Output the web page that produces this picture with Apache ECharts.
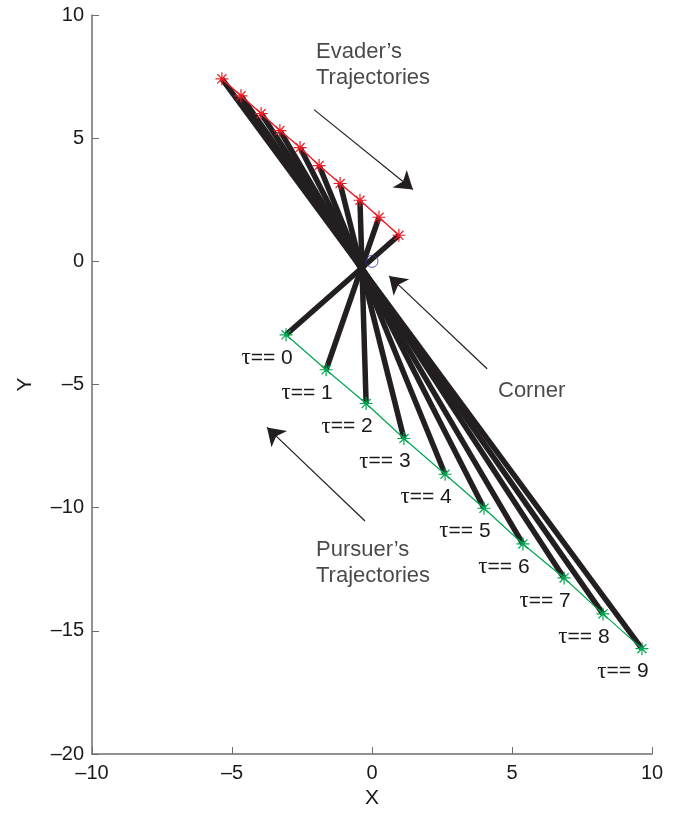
<!DOCTYPE html>
<html><head><meta charset="utf-8">
<script src="https://cdn.jsdelivr.net/npm/echarts@6/dist/echarts.min.js"></script>
<style>html,body{margin:0;padding:0;background:#fff}#c{width:677px;height:814px}</style>
</head><body><div id="c"></div>
<script>
// Evader positions (red)
const evaderX = [-5.36, -4.68, -3.96, -3.29, -2.57, -1.89, -1.14, -0.43, 0.25, 0.96];
const evaderY = [7.41, 6.72, 6.00, 5.31, 4.62, 3.89, 3.16, 2.48, 1.79, 1.06];
// Pursuer positions (green), tau = 0..9
const pursuerX = [-3.07, -1.64, -0.21, 1.14, 2.61, 4.00, 5.39, 6.86, 8.25, 9.64];
const pursuerY = [-2.98, -4.40, -5.77, -7.19, -8.64, -10.02, -11.47, -12.85, -14.31, -15.72];
const tauLabels = ['0','1','2','3','4','5','6','7','8','9'];
const corner = [0, 0];
const xTicks = [-10, -5, 0, 5, 10];
const yTicks = [10, 5, 0, -5, -10, -15, -20];
// annotation arrows [tail, tip]
const arrows = [
  [[-2.07, 6.16], [1.46, 2.92]],
  [[4.11, -4.36], [0.61, -0.59]],
  [[-0.25, -10.54], [-3.75, -6.74]]
];
const notes = [
  {text: "Evader’s\nTrajectories", pos: [-2.0, 7.98]},
  {text: "Corner", pos: [4.5, -5.27]},
  {text: "Pursuer’s\nTrajectories", pos: [-2.0, -12.24]}
];

const FONT = 'Liberation Sans, Arial, Helvetica, sans-serif';
const star = 'path://M0,-10L0,10M-10,0L10,0M-7,-7L7,7M-7,7L7,-7';
const fmt = v => String(v).replace('-', '–');

const series = [];
// black connecting lines: evader (9-k) to pursuer k
for (let k = 0; k < pursuerX.length; k++) {
  const e = evaderX.length - 1 - k;
  series.push({
    type: 'line', silent: true, symbol: 'none', z: 2,
    lineStyle: {color: '#231f20', width: 5.5},
    data: [[evaderX[e], evaderY[e]], [pursuerX[k], pursuerY[k]]]
  });
}
series.push({
  type: 'line', z: 4, symbol: star, symbolSize: 13,
  itemStyle: {color: 'rgba(0,0,0,0)', borderColor: '#ed1c24', borderWidth: 1.2},
  lineStyle: {color: '#ed1c24', width: 1.5},
  data: evaderX.map((x, i) => [x, evaderY[i]])
});
series.push({
  type: 'line', z: 4, symbol: star, symbolSize: 13,
  itemStyle: {color: 'rgba(0,0,0,0)', borderColor: '#00a651', borderWidth: 1.2},
  lineStyle: {color: '#00a651', width: 1.2},
  label: {show: true, position: 'inside', offset: [-19, 23], color: '#1a1a1a', fontSize: 21, fontFamily: FONT,
    formatter: p => '{t|τ}== ' + tauLabels[p.dataIndex],
    rich: {t: {fontFamily: 'Liberation Serif, Times New Roman, serif', fontSize: 23, color: '#1a1a1a'}}},
  data: pursuerX.map((x, i) => [x, pursuerY[i]])
});
series.push({
  type: 'scatter', z: 5, symbol: 'circle', symbolSize: 12,
  itemStyle: {color: 'rgba(0,0,0,0)', borderColor: '#2e3192', borderWidth: 1},
  data: [corner]
});
series.push({
  type: 'lines', coordinateSystem: 'cartesian2d', z: 3, silent: true,
  symbol: ['none', 'arrow'], symbolSize: [0, 17],
  lineStyle: {color: '#231f20', width: 1.2, opacity: 1},
  data: arrows.map(a => ({coords: a}))
});
series.push({
  type: 'scatter', z: 5, symbolSize: 0, silent: true,
  label: {show: true, position: 'right', distance: 0, color: '#1a1a1a', fontSize: 22, fontFamily: FONT, lineHeight: 26,
    formatter: p => notes[p.dataIndex].text},
  data: notes.map(n => n.pos)
});

const chart = echarts.init(document.getElementById('c'), null, {renderer: 'canvas'});
chart.setOption({
  animation: false,
  backgroundColor: '#fff',
  grid: {left: 92, right: 25, top: 15, bottom: 50},
  xAxis: {
    type: 'value', min: xTicks[0], max: xTicks[xTicks.length - 1], interval: 5,
    name: 'X', nameLocation: 'middle', nameGap: 33,
    nameTextStyle: {fontSize: 21, color: '#1a1a1a', fontFamily: FONT},
    axisLine: {onZero: false, lineStyle: {color: '#6d6e71', width: 1.5}},
    axisTick: {inside: true, length: 7, lineStyle: {color: '#6d6e71'}},
    axisLabel: {fontSize: 20, color: '#1a1a1a', fontFamily: FONT, margin: 9, formatter: fmt},
    splitLine: {show: false}
  },
  yAxis: {
    type: 'value', min: yTicks[yTicks.length - 1], max: yTicks[0], interval: 5,
    name: 'Y', nameLocation: 'middle', nameGap: 56, nameRotate: 90,
    nameTextStyle: {fontSize: 21, color: '#1a1a1a', fontFamily: FONT},
    axisLine: {onZero: false, lineStyle: {color: '#6d6e71', width: 1.5}},
    axisTick: {inside: true, length: 7, lineStyle: {color: '#6d6e71'}},
    axisLabel: {fontSize: 20, color: '#1a1a1a', fontFamily: FONT, margin: 8, formatter: fmt},
    splitLine: {show: false}
  },
  series: series
});
</script></body></html>
